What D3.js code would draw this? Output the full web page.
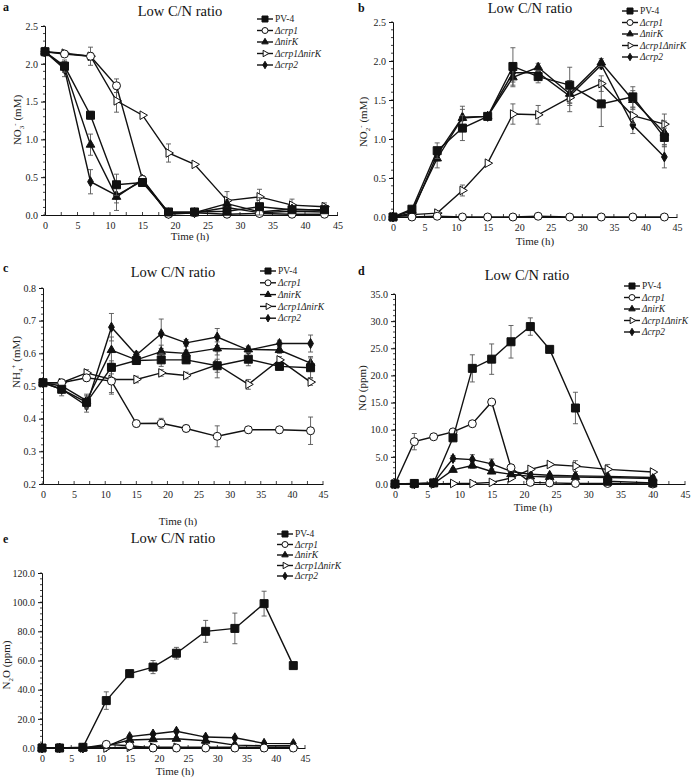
<!DOCTYPE html>
<html><head><meta charset="utf-8">
<script src="https://cdn.jsdelivr.net/npm/d3@7"></script>
<style>body{margin:0;background:#fff}svg{display:block}</style>
</head><body>
<svg id="chart" width="691" height="778"></svg>
<script>
// ---------- DATA ----------
const seriesNames = ["PV-4", "Δcrp1", "ΔnirK", "Δcrp1ΔnirK", "Δcrp2"];
const timesMain = [0, 3, 7, 11, 15, 19, 23, 28, 33, 38, 43];
const timesNO = [0, 3, 6, 9, 12, 15, 18, 21, 24, 28, 33, 40];

// a: NO3- (mM)
const no3_pv4  = [2.16, 1.97, 1.32, 0.40, 0.43, 0.04, 0.04, 0.05, 0.11, 0.07, 0.07];
const no3_crp1 = [2.16, 2.13, 2.10, 1.71, 0.47, 0.01, 0.03, 0.01, 0.02, 0.01, 0.01];
const no3_nirK = [2.16, 1.95, 0.93, 0.24, 0.47, 0.03, 0.03, 0.15, 0.04, 0.08, 0.06];
const no3_cn   = [2.16, 2.14, 2.10, 1.51, 1.32, 0.82, 0.67, 0.19, 0.24, 0.13, 0.11];
const no3_crp2 = [2.16, 1.93, 0.44, 0.26, 0.45, 0.02, 0.03, 0.10, 0.03, 0.05, 0.04];
const no3_err_pv4  = [0.05, 0.08, 0.05, 0.14, 0.04, 0.02, 0.02, 0.02, 0.12, 0.03, 0.03];
const no3_err_crp1 = [0.03, 0.03, 0.12, 0.09, 0.04, 0.01, 0.01, 0.01, 0.01, 0.01, 0.01];
const no3_err_nirK = [0.03, 0.06, 0.14, 0.18, 0.05, 0.02, 0.02, 0.05, 0.05, 0.03, 0.03];
const no3_err_cn   = [0.03, 0.03, 0.05, 0.15, 0.02, 0.12, 0.02, 0.12, 0.10, 0.08, 0.05];
const no3_err_crp2 = [0.03, 0.10, 0.16, 0.10, 0.05, 0.01, 0.01, 0.04, 0.02, 0.02, 0.02];

// b: NO2- (mM)
const no2_pv4  = [0.00, 0.10, 0.85, 1.14, 1.29, 1.93, 1.80, 1.69, 1.45, 1.54, 1.02];
const no2_crp1 = [0.00, 0.00, 0.01, 0.00, 0.00, 0.00, 0.01, 0.00, 0.00, 0.00, 0.00];
const no2_nirK = [0.00, 0.08, 0.75, 1.27, 1.29, 1.79, 1.92, 1.58, 1.98, 1.50, 1.08];
const no2_cn   = [0.00, 0.03, 0.05, 0.34, 0.69, 1.32, 1.31, 1.53, 1.71, 1.30, 1.19];
const no2_crp2 = [0.00, 0.05, 0.80, 1.28, 1.29, 1.85, 1.85, 1.55, 1.95, 1.18, 0.77];
const no2_err_pv4  = [0, 0.03, 0.10, 0.16, 0.04, 0.24, 0.08, 0.23, 0.29, 0.13, 0.12];
const no2_err_crp1 = [0, 0, 0, 0, 0, 0, 0, 0, 0, 0, 0];
const no2_err_nirK = [0, 0.03, 0.12, 0.15, 0.03, 0.12, 0.05, 0.12, 0.05, 0.12, 0.15];
const no2_err_cn   = [0, 0.01, 0.02, 0.07, 0.02, 0.13, 0.12, 0.10, 0.10, 0.10, 0.13];
const no2_err_crp2 = [0, 0.03, 0.08, 0.10, 0.03, 0.12, 0.05, 0.20, 0.05, 0.11, 0.14];

// c: NH4+ (mM)
const nh4_pv4  = [0.51, 0.49, 0.45, 0.557, 0.578, 0.58, 0.58, 0.562, 0.582, 0.56, 0.556];
const nh4_crp1 = [0.51, 0.51, 0.525, 0.515, 0.385, 0.386, 0.37, 0.346, 0.366, 0.366, 0.363];
const nh4_nirK = [0.51, 0.50, 0.455, 0.61, 0.58, 0.605, 0.60, 0.615, 0.612, 0.61, 0.57];
const nh4_cn   = [0.51, 0.51, 0.54, 0.52, 0.52, 0.54, 0.532, 0.565, 0.505, 0.58, 0.512];
const nh4_crp2 = [0.51, 0.49, 0.44, 0.68, 0.595, 0.66, 0.632, 0.65, 0.61, 0.63, 0.63];
const nh4_err_pv4  = [0.01, 0.01, 0.02, 0.02, 0.01, 0.02, 0.01, 0.02, 0.02, 0.01, 0.03];
const nh4_err_crp1 = [0.01, 0.01, 0.01, 0.04, 0.01, 0.015, 0.01, 0.032, 0.01, 0.01, 0.042];
const nh4_err_nirK = [0.01, 0.01, 0.02, 0.04, 0.01, 0.02, 0.01, 0.02, 0.01, 0.01, 0.02];
const nh4_err_cn   = [0.01, 0.01, 0.01, 0.04, 0.01, 0.01, 0.01, 0.04, 0.015, 0.01, 0.01];
const nh4_err_crp2 = [0.01, 0.02, 0.02, 0.042, 0.01, 0.045, 0.01, 0.026, 0.01, 0.01, 0.026];

// d: NO (ppm)
const no_pv4  = [0.0, 0.1, 0.2, 8.5, 21.3, 23.0, 26.2, 29.0, 24.8, 14.0, 0.5, 0.2];
const no_crp1 = [0.0, 7.8, 8.7, 9.6, 11.1, 15.1, 3.0, 0.3, 0.2, 0.1, 0.1, 0.0];
const no_nirK = [0.0, 0.0, 0.1, 2.6, 3.4, 2.3, 1.8, 1.4, 1.3, 1.3, 1.2, 1.0];
const no_cn   = [0.0, 0.0, 0.0, 0.1, 0.1, 0.3, 1.1, 2.7, 3.6, 3.3, 2.7, 2.2];
const no_crp2 = [0.0, 0.0, 0.2, 4.7, 4.5, 3.7, 2.3, 1.8, 1.6, 1.5, 1.4, 1.2];
const no_err_pv4  = [0, 0, 0, 0.5, 2.5, 2.8, 3.0, 1.6, 0, 2.9, 0.5, 0];
const no_err_crp1 = [0, 1.5, 0, 0, 0, 0, 0, 0, 0, 0, 0, 0];
const no_err_nirK = [0, 0, 0, 0.3, 0.5, 0.4, 0.3, 0.2, 0.2, 0.2, 0.2, 0.2];
const no_err_cn   = [0, 0, 0, 0, 0, 0, 0.3, 0.3, 0.3, 1.0, 0.9, 0.3];
const no_err_crp2 = [0, 0, 0, 0.5, 0.9, 0.9, 0.5, 0.3, 0.3, 0.3, 0.3, 0.3];

// e: N2O (ppm)
const n2o_pv4  = [0.0, 0.0, 0.5, 32.5, 51.0, 55.5, 65.0, 80.0, 82.0, 99.0, 56.5];
const n2o_crp1 = [0.0, 0.0, 0.0, 2.5, 1.5, 0.0, 0.0, 0.0, 0.0, 0.0, 0.0];
const n2o_nirK = [0.0, 0.0, 0.0, 1.5, 5.5, 6.0, 6.3, 5.0, 2.0, 1.5, 1.5];
const n2o_cn   = [0.0, 0.0, 0.0, 0.0, 0.5, 0.5, 0.5, 0.5, 0.5, 0.5, 0.5];
const n2o_crp2 = [0.0, 0.0, 0.0, 1.0, 7.8, 9.6, 11.5, 7.5, 7.0, 3.2, 3.0];
const n2o_err_pv4  = [0, 0, 0, 6.0, 1.5, 4.5, 4.0, 7.5, 10.5, 8.5, 0];
const n2o_err_crp1 = [0, 0, 0, 0.5, 0.5, 0, 0, 0, 0, 0, 0];
const n2o_err_nirK = [0, 0, 0, 0.5, 1.0, 1.0, 1.0, 1.0, 0.5, 0.5, 0.5];
const n2o_err_cn   = [0, 0, 0, 0, 0.3, 0.3, 0.3, 0.3, 0.3, 0.3, 0.3];
const n2o_err_crp2 = [0, 0, 0, 0.5, 1.0, 1.0, 1.0, 1.0, 1.0, 0.5, 0.5];

const xTicks = [0, 5, 10, 15, 20, 25, 30, 35, 40, 45];
const yTicksA = [0, 0.5, 1.0, 1.5, 2.0, 2.5];
const yTicksC = [0.2, 0.3, 0.4, 0.5, 0.6, 0.7, 0.8];
const yTicksD = [0, 5, 10, 15, 20, 25, 30, 35];
const yTicksE = [0, 20, 40, 60, 80, 100, 120];

// ---------- DRAW ----------
const svg = d3.select("#chart");
const FONT = "Liberation Serif";

function markerPath(i, s) {
  if (i === 0) return d3.symbol().type(d3.symbolSquare).size(s * s)();
  if (i === 1) return d3.symbol().type(d3.symbolCircle).size(Math.PI * (s * 0.5) * (s * 0.5))();
  if (i === 2) return d3.symbol().type(d3.symbolTriangle).size(s * s * 0.5)();
  if (i === 3) return d3.symbol().type(d3.symbolTriangle).size(s * s * 0.5)();
  return d3.symbol().type(d3.symbolDiamond).size(s * s * 0.45)();
}
function drawMarker(g, i, x, y, s) {
  const p = g.append("path").attr("d", markerPath(i, s))
    .attr("transform", `translate(${x},${y})` + (i === 3 ? " rotate(90)" : ""))
    .attr("stroke", "#111").attr("stroke-width", 1);
  if (i === 1 || i === 3) p.attr("fill", "#fff"); else p.attr("fill", "#111");
}

function panel(cfg) {
  const g = svg.append("g");
  const x = d3.scaleLinear().domain([0, 45]).range([cfg.x0, cfg.x1]);
  const y = d3.scaleLinear().domain([cfg.yMin, cfg.yMax]).range([cfg.yB, cfg.yT]);

  const yAxis = d3.axisLeft(y).tickValues(cfg.yTicks).tickSize(4).tickFormat(cfg.fmt);
  const ga = g.append("g").attr("transform", `translate(${cfg.x0},0)`).call(yAxis);
  const xAxis = d3.axisBottom(x).tickValues(xTicks).tickSize(0).tickPadding(7).tickFormat(d3.format("d"));
  const gx = g.append("g").attr("transform", `translate(0,${cfg.yB})`).call(xAxis);
  [ga, gx].forEach(a => {
    a.attr("font-family", FONT);
    a.select(".domain").attr("stroke", "#111").attr("stroke-width", 1);
    a.selectAll("line").attr("stroke", "#111");
    a.selectAll("text").attr("font-family", FONT).attr("font-size", 10).attr("fill", "#222");
  });
  const step = cfg.yTicks[1] - cfg.yTicks[0];
  const minors = d3.range(cfg.yMin, cfg.yMax + step / 10, step / 5);
  g.selectAll(null).data(minors).join("line")
    .attr("x1", cfg.x0 - 2).attr("x2", cfg.x0).attr("y1", d => y(d)).attr("y2", d => y(d))
    .attr("stroke", "#111").attr("stroke-width", 0.8);
  const xmin = d3.range(0, 45.1, 2.5);
  g.selectAll(null).data(xmin).join("line")
    .attr("x1", d => x(d)).attr("x2", d => x(d)).attr("y1", cfg.yB).attr("y2", cfg.yB - 3)
    .attr("stroke", "#111").attr("stroke-width", 0.8);

  for (let i = cfg.series.length - 1; i >= 0; i--) {
    const vals = cfg.series[i], errs = cfg.errors[i];
    const pts = cfg.times.map((t, k) => [t, vals[k], errs[k]]);
    const sg = g.append("g");
    sg.selectAll(null).data(pts.filter(p => p[2] > 0)).join("path")
      .attr("d", p => {
        const xx = x(p[0]), y1 = y(p[1] + p[2]), y2 = y(Math.max(cfg.yMin, p[1] - p[2]));
        return `M${xx},${y1}V${y2}M${xx - 2.5},${y1}H${xx + 2.5}M${xx - 2.5},${y2}H${xx + 2.5}`;
      })
      .attr("stroke", "#555").attr("stroke-width", 0.9).attr("fill", "none");
    sg.append("path").datum(pts)
      .attr("d", d3.line().x(p => x(p[0])).y(p => y(p[1])))
      .attr("fill", "none").attr("stroke", "#111").attr("stroke-width", 1.4);
    pts.forEach(p => drawMarker(sg, i, x(p[0]), y(p[1]), cfg.ms));
  }

  g.append("text").attr("x", cfg.title[0]).attr("y", cfg.title[1]).attr("text-anchor", "middle")
    .attr("font-family", FONT).attr("font-size", 14.5).style("font-weight", "400").attr("fill", "#111").text("Low C/N ratio");
  g.append("text").attr("x", cfg.letter[0]).attr("y", cfg.letter[1])
    .attr("font-family", FONT).attr("font-size", 12).style("font-weight", "700").attr("fill", "#111").text(cfg.letterText);
  g.append("text").attr("x", cfg.xlab[0]).attr("y", cfg.xlab[1]).attr("text-anchor", "middle")
    .attr("font-family", FONT).attr("font-size", 11).style("font-weight", "400").attr("fill", "#222").text("Time (h)");
  const yl = g.append("text").attr("transform", `translate(${cfg.ylab[0]},${cfg.ylab[1]}) rotate(-90)`)
    .attr("text-anchor", "middle").attr("font-family", FONT).attr("font-size", 11)
    .style("font-weight", "400").attr("fill", "#222");
  cfg.ylabParts.forEach(([t, kind]) => {
    const ts = yl.append("tspan").text(t);
    if (kind === "sub") ts.attr("font-size", 7).attr("dy", 3);
    if (kind === "sup") ts.attr("font-size", 7).attr("dy", -7);
    if (kind === "back") ts.attr("dy", 4);
    if (kind === "back2") ts.attr("dy", -3);
  });

  const lg = g.append("g");
  seriesNames.forEach((n, i) => {
    const ly = cfg.legend[1] + i * cfg.legend[2];
    const lx = cfg.legend[0];
    lg.append("line").attr("x1", lx).attr("x2", lx + 16).attr("y1", ly).attr("y2", ly)
      .attr("stroke", "#111").attr("stroke-width", 1.4);
    drawMarker(lg, i, lx + 8, ly, 6);
    lg.append("text").attr("x", lx + 18).attr("y", ly + 3.2)
      .attr("font-family", FONT).attr("font-size", 9.5).attr("fill", "#222")
      .attr("font-style", i === 0 ? "normal" : "italic").text(n);
  });
}

panel({
  letterText: "a", letter: [3, 11], title: [180, 16], xlab: [190, 240], ylab: [21, 120],
  ylabParts: [["NO", ""], ["3", "sub"], ["-", "sup"], [" (mM)", "back"]],
  x0: 45, x1: 337.5, yB: 215, yT: 26, yMin: 0, yMax: 2.5, yTicks: yTicksA, fmt: d3.format(".1f"),
  times: timesMain, ms: 8,
  series: [no3_pv4, no3_crp1, no3_nirK, no3_cn, no3_crp2],
  errors: [no3_err_pv4, no3_err_crp1, no3_err_nirK, no3_err_cn, no3_err_crp2],
  legend: [257, 19, 11.5]
});
panel({
  letterText: "b", letter: [358, 12], title: [530, 13], xlab: [535, 245], ylab: [367, 122],
  ylabParts: [["NO", ""], ["2", "sub"], ["-", "sup"], [" (mM)", "back"]],
  x0: 393, x1: 677, yB: 217, yT: 22, yMin: 0, yMax: 2.5, yTicks: yTicksA, fmt: d3.format(".1f"),
  times: timesMain, ms: 8,
  series: [no2_pv4, no2_crp1, no2_nirK, no2_cn, no2_crp2],
  errors: [no2_err_pv4, no2_err_crp1, no2_err_nirK, no2_err_cn, no2_err_crp2],
  legend: [622, 11, 11.5]
});
panel({
  letterText: "c", letter: [3, 272], title: [173, 277], xlab: [178, 525], ylab: [20, 362],
  ylabParts: [["NH", ""], ["4", "sub"], ["+", "sup"], [" (mM)", "back"]],
  x0: 43, x1: 323, yB: 484, yT: 288, yMin: 0.2, yMax: 0.8, yTicks: yTicksC, fmt: d3.format(".1f"),
  times: timesMain, ms: 8,
  series: [nh4_pv4, nh4_crp1, nh4_nirK, nh4_cn, nh4_crp2],
  errors: [nh4_err_pv4, nh4_err_crp1, nh4_err_nirK, nh4_err_cn, nh4_err_crp2],
  legend: [260, 271, 11.8]
});
panel({
  letterText: "d", letter: [358, 275], title: [527, 280], xlab: [533, 511], ylab: [366, 388],
  ylabParts: [["NO (ppm)", ""]],
  x0: 395, x1: 685, yB: 484, yT: 294, yMin: 0, yMax: 35, yTicks: yTicksD, fmt: d3.format(".1f"),
  times: timesNO, ms: 8,
  series: [no_pv4, no_crp1, no_nirK, no_cn, no_crp2],
  errors: [no_err_pv4, no_err_crp1, no_err_nirK, no_err_cn, no_err_crp2],
  legend: [624, 286, 11.5]
});
panel({
  letterText: "e", letter: [3, 543], title: [173, 543], xlab: [175, 775], ylab: [10, 665],
  ylabParts: [["N", ""], ["2", "sub"], ["O (ppm)", "back2"]],
  x0: 42, x1: 305, yB: 748, yT: 573, yMin: 0, yMax: 120, yTicks: yTicksE, fmt: d3.format(".1f"),
  times: timesMain, ms: 8,
  series: [n2o_pv4, n2o_crp1, n2o_nirK, n2o_cn, n2o_crp2],
  errors: [n2o_err_pv4, n2o_err_crp1, n2o_err_nirK, n2o_err_cn, n2o_err_crp2],
  legend: [277, 534, 10.5]
});
</script>
</body></html>
